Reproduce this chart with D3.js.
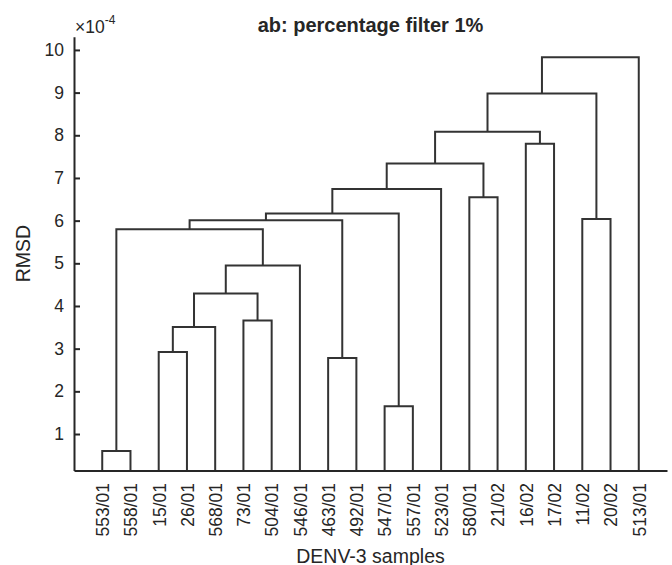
<!DOCTYPE html>
<html>
<head>
<meta charset="utf-8">
<script src="https://cdn.jsdelivr.net/npm/d3@7"></script>
<style>
  body { margin: 0; background: #fff; }
  svg text { font-family: "Liberation Sans", Arial, sans-serif; fill: #262626; }
</style>
</head>
<body>
<svg id="chart"></svg>
<script>
// leaf order along the x axis
const leaves = ["553/01", "558/01", "15/01", "26/01", "568/01", "73/01", "504/01", "546/01",
  "463/01", "492/01", "547/01", "557/01", "523/01", "580/01", "21/02", "16/02", "17/02",
  "11/02", "20/02", "513/01"];

// linkage: [left, right, height (x1e-4)]; "cN" refers to the N-th merge below
const merges = [
  ["553/01", "558/01", 0.60],  // c0
  ["15/01", "26/01", 2.92],    // c1
  ["c1", "568/01", 3.51],      // c2
  ["73/01", "504/01", 3.66],   // c3
  ["c2", "c3", 4.29],          // c4
  ["c4", "546/01", 4.95],      // c5
  ["c0", "c5", 5.80],          // c6
  ["463/01", "492/01", 2.78],  // c7
  ["c6", "c7", 6.01],          // c8
  ["547/01", "557/01", 1.65],  // c9
  ["c8", "c9", 6.17],          // c10
  ["c10", "523/01", 6.74],     // c11
  ["580/01", "21/02", 6.55],   // c12
  ["c11", "c12", 7.34],        // c13
  ["16/02", "17/02", 7.80],    // c14
  ["c13", "c14", 8.08],        // c15
  ["11/02", "20/02", 6.04],    // c16
  ["c15", "c16", 8.98],        // c17
  ["c17", "513/01", 9.83]      // c18
];

const yTicks = [1, 2, 3, 4, 5, 6, 7, 8, 9, 10];

const width = 672, height = 565;
const margin = {left: 74, right: 667, top: 36.7, bottom: 470.5};

const svg = d3.select("#chart").attr("width", width).attr("height", height);

const x = d3.scaleLinear().domain([0, leaves.length + 1]).range([margin.left, margin.right]);
const y = d3.scaleLinear().domain([0.145, 10.31]).range([margin.bottom, margin.top]);

// position of every leaf / cluster
const pos = {};
leaves.forEach((d, i) => { pos[d] = {x: x(i + 1), h: y.domain()[0]}; });
merges.forEach((m, i) => {
  const a = pos[m[0]], b = pos[m[1]];
  pos["c" + i] = {x: (a.x + b.x) / 2, h: m[2], a: a, b: b};
});

const links = merges.map((m, i) => pos["c" + i]);

svg.append("g")
  .selectAll("path")
  .data(links)
  .join("path")
  .attr("d", d => `M${d.a.x},${y(d.a.h)}V${y(d.h)}H${d.b.x}V${y(d.b.h)}`)
  .attr("fill", "none")
  .attr("stroke", "#333")
  .attr("stroke-width", 2);

// y axis
const yAxis = d3.axisLeft(y)
  .tickValues(yTicks)
  .tickSizeInner(-6)
  .tickSizeOuter(0)
  .tickPadding(10)
  .tickFormat(d3.format("d"));

const yG = svg.append("g")
  .attr("transform", `translate(${margin.left},0)`)
  .call(yAxis);
yG.selectAll("path, line").attr("stroke", "#262626").attr("stroke-width", 2);
yG.selectAll("text").style("font-size", "17.5px").attr("fill", "#262626");

// x axis
const xAxis = d3.axisBottom(x)
  .tickValues(d3.range(1, leaves.length + 1))
  .tickSize(0)
  .tickFormat(d => leaves[d - 1]);

const xG = svg.append("g")
  .attr("transform", `translate(0,${margin.bottom})`)
  .call(xAxis);
xG.select(".domain").attr("stroke", "#262626").attr("stroke-width", 2);
xG.selectAll("text")
  .style("font-size", "17.5px")
  .attr("fill", "#262626")
  .attr("transform", "rotate(-90)")
  .attr("x", -12.5)
  .attr("y", 0)
  .attr("dy", "0.36em")
  .attr("text-anchor", "end");

// exponent label
const exp = svg.append("text")
  .attr("x", 75)
  .attr("y", 33)
  .style("font-size", "17.5px");
exp.append("tspan").text("\u00d710");
exp.append("tspan").attr("dy", -9).style("font-size", "12px").text("-4");

// title
svg.append("text")
  .attr("x", (margin.left + margin.right) / 2)
  .attr("y", 31.5)
  .attr("text-anchor", "middle")
  .style("font-size", "20px")
  .style("font-weight", "bold")
  .text("ab: percentage filter 1%");

// axis labels
svg.append("text")
  .attr("transform", `translate(29.5,${(margin.top + margin.bottom) / 2}) rotate(-90)`)
  .attr("text-anchor", "middle")
  .style("font-size", "19.5px")
  .text("RMSD");

svg.append("text")
  .attr("x", (margin.left + margin.right) / 2)
  .attr("y", 562.5)
  .attr("text-anchor", "middle")
  .style("font-size", "19.5px")
  .text("DENV-3 samples");
</script>
</body>
</html>
